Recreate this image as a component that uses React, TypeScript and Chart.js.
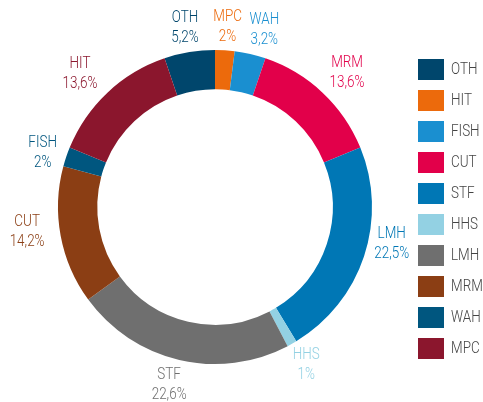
import React, { useEffect, useRef } from "react";
import { Chart, registerables } from "chart.js";

Chart.register(...registerables);

const sliceLabels = ["OTH", "MPC", "WAH", "MRM", "LMH", "HHS", "STF", "CUT", "FISH", "HIT"];
const values = [5.2, 2, 3.2, 13.6, 22.5, 1, 22.6, 14.2, 2, 13.6];
const valueTexts = ["5,2%", "2%", "3,2%", "13,6%", "22,5%", "1%", "22,6%", "14,2%", "2%", "13,6%"];
const legendLabels = ["OTH", "HIT", "FISH", "CUT", "STF", "HHS", "LMH", "MRM", "WAH", "MPC"];
const colors = [
  "#00466c",
  "#ec6a0c",
  "#1a8fd0",
  "#e2004a",
  "#0077b5",
  "#93d1e3",
  "#6f6f6f",
  "#8b3e14",
  "#00567f",
  "#8b162d",
];

const FONT = "Roboto, 'Noto Sans', sans-serif";
const SQUEEZE = 0.84;

// small label placement nudges (label layout only, not data)
const nudges: Record<string, [number, number]> = {
  OTH: [0, 3],
  MPC: [1, 4],
  WAH: [8, 2],
  MRM: [6, 0],
  LMH: [2, -21],
  HHS: [1, -2],
  STF: [-4, -1],
  CUT: [-7, -9],
  FISH: [2, 5],
  HIT: [-9, 1],
};

function drawCondensed(ctx: CanvasRenderingContext2D, text: string, x: number, y: number) {
  ctx.save();
  ctx.translate(x, y);
  ctx.scale(SQUEEZE, 1);
  ctx.fillText(text, 0, 0);
  ctx.restore();
}

const outsideLabels = {
  id: "outsideLabels",
  afterDatasetsDraw(chart: any) {
    const ctx = chart.ctx;
    const meta = chart.getDatasetMeta(0);
    ctx.save();
    ctx.textAlign = "center";
    ctx.textBaseline = "middle";
    ctx.font = `300 16px ${FONT}`;
    meta.data.forEach((arc: any, i: number) => {
      const mid = (arc.startAngle + arc.endAngle) / 2;
      const r = arc.outerRadius + 27;
      const n = nudges[sliceLabels[i]] || [0, 0];
      const x = arc.x + Math.cos(mid) * r + n[0];
      const y = arc.y + Math.sin(mid) * r + n[1];
      ctx.fillStyle = colors[i];
      drawCondensed(ctx, sliceLabels[i], x, y - 10);
      drawCondensed(ctx, valueTexts[i], x, y + 10);
    });
    ctx.restore();
  },
};

const sideLegend = {
  id: "sideLegend",
  afterDraw(chart: any) {
    const ctx = chart.ctx;
    ctx.save();
    ctx.textAlign = "left";
    ctx.textBaseline = "middle";
    ctx.font = `300 16px ${FONT}`;
    legendLabels.forEach((lab, i) => {
      const y = 59 + i * 31;
      ctx.fillStyle = colors[i];
      ctx.fillRect(418, y, 26, 21);
      ctx.fillStyle = "#444444";
      drawCondensed(ctx, lab, 451, y + 11);
    });
    ctx.restore();
  },
};

export default function App() {
  const ref = useRef<HTMLCanvasElement | null>(null);
  useEffect(() => {
    if (!ref.current) return;
    const total = values.reduce((a, b) => a + b, 0);
    const chart = new Chart(ref.current, {
      type: "doughnut",
      data: {
        labels: legendLabels,
        datasets: [
          {
            data: values,
            backgroundColor: colors,
            borderWidth: 0,
          },
        ],
      },
      options: {
        responsive: false,
        maintainAspectRatio: false,
        animation: false,
        cutout: "75%",
        rotation: -(values[0] / total) * 360,
        layout: { padding: { left: 58, right: 111, top: 50, bottom: 38 } },
        plugins: {
          legend: { display: false },
          tooltip: { enabled: false },
        },
      },
      plugins: [outsideLabels, sideLegend],
    });
    return () => chart.destroy();
  }, []);
  return (
    <div style={{ position: "absolute", left: 0, top: 0, width: 483, height: 402, background: "#fff" }}>
      <canvas ref={ref} width={483} height={402} />
    </div>
  );
}
